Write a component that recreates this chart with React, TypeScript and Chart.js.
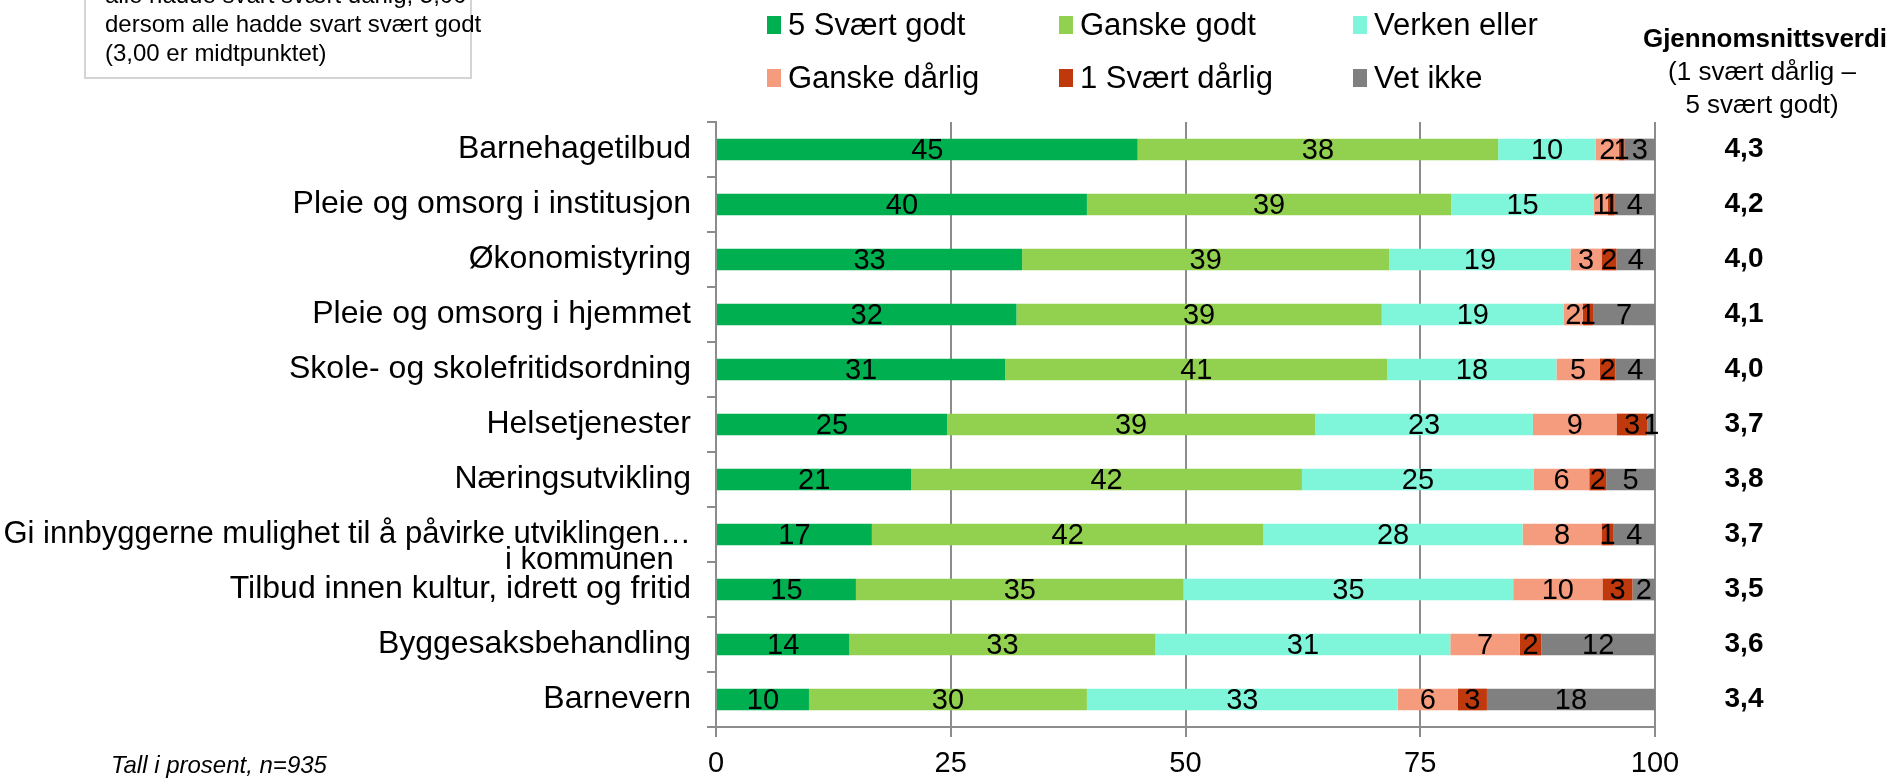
import React, { useEffect, useRef } from 'react';
import { Chart, registerables } from 'chart.js';

Chart.register(...registerables);

const FONT = '"Liberation Sans", Arial, sans-serif';

const categories: (string | string[])[] = [
  'Barnehagetilbud',
  'Pleie og omsorg i institusjon',
  'Økonomistyring',
  'Pleie og omsorg i hjemmet',
  'Skole- og skolefritidsordning',
  'Helsetjenester',
  'Næringsutvikling',
  ['', 'Gi innbyggerne mulighet til å påvirke utviklingen…', 'i kommunen\u00a0\u00a0'],
  'Tilbud innen kultur, idrett og fritid',
  'Byggesaksbehandling',
  'Barnevern',
];

const seriesNames = ['5 Svært godt', 'Ganske godt', 'Verken eller', 'Ganske dårlig', '1 Svært dårlig', 'Vet ikke'];
const seriesColors = ['#00b050', '#92d050', '#7ff5d9', '#f59c7e', '#c0390c', '#808080'];

const svaertGodt = [44.9, 39.5, 32.6, 32.0, 30.8, 24.6, 20.8, 16.6, 14.9, 14.2, 9.9];
const ganskeGodt = [38.4, 38.8, 39.1, 38.9, 40.7, 39.2, 41.6, 41.7, 34.9, 32.6, 29.6];
const verkenEller = [10.4, 15.2, 19.3, 19.4, 18.0, 23.2, 24.7, 27.6, 35.1, 31.4, 33.1];
const ganskeDarlig = [2.45, 1.45, 3.3, 2.0, 4.6, 8.9, 5.9, 8.4, 9.5, 7.4, 6.4];
const svaertDarlig = [0.6, 0.75, 1.6, 1.1, 1.7, 3.3, 1.8, 1.3, 3.2, 2.3, 3.1];
const vetIkke = [3.25, 4.3, 4.1, 6.6, 4.2, 0.8, 5.2, 4.4, 2.4, 12.1, 17.9];

const averages = [4.3, 4.2, 4.0, 4.1, 4.0, 3.7, 3.8, 3.7, 3.5, 3.6, 3.4];

const xTicks = [0, 25, 50, 75, 100];

const headerLines = ['Gjennomsnittsverdi', '(1 svært dårlig –', '5 svært godt)'];
const boxLines = ['alle hadde svart svært dårlig, 5,00', 'dersom alle hadde svart svært godt', '(3,00 er midtpunktet)'];
const footnote = 'Tall i prosent, n=935';

const seriesValues = [svaertGodt, ganskeGodt, verkenEller, ganskeDarlig, svaertDarlig, vetIkke];

const barLabelsPlugin = {
  id: 'barLabels',
  afterDatasetsDraw(chart: any) {
    const ctx = chart.ctx;
    ctx.save();
    ctx.font = `29px ${FONT}`;
    ctx.fillStyle = '#000';
    ctx.textAlign = 'center';
    ctx.textBaseline = 'middle';
    chart.data.datasets.forEach((ds: any, di: number) => {
      const meta = chart.getDatasetMeta(di);
      meta.data.forEach((bar: any, i: number) => {
        const v = ds.data[i];
        const p = bar.getProps(['x', 'base', 'y'], true);
        ctx.fillText(String(Math.round(v)), (p.x + p.base) / 2, p.y + 1);
      });
    });
    ctx.restore();
  },
};

const decorPlugin = {
  id: 'decor',
  afterDraw(chart: any) {
    const ctx = chart.ctx;
    const yScale = chart.scales.y;
    ctx.save();

    // legend
    const colX = [767, 1059, 1353];
    const rowY = [25, 78];
    ctx.font = `31px ${FONT}`;
    ctx.textBaseline = 'middle';
    ctx.textAlign = 'left';
    chart.data.datasets.forEach((ds: any, i: number) => {
      const cx = colX[i % 3];
      const cy = rowY[Math.floor(i / 3)];
      ctx.fillStyle = ds.backgroundColor;
      ctx.fillRect(cx, cy - 9, 14, 18);
      ctx.fillStyle = '#000';
      ctx.fillText(ds.label, cx + 21, cy + 1);
    });

    // header right
    ctx.textAlign = 'center';
    ctx.font = `bold 26px ${FONT}`;
    ctx.fillText(headerLines[0], 1765, 40);
    ctx.font = `26px ${FONT}`;
    ctx.fillText(headerLines[1], 1762, 73);
    ctx.fillText(headerLines[2], 1762, 106);

    // averages
    ctx.font = `bold 28px ${FONT}`;
    averages.forEach((a, i) => {
      const y = yScale.getPixelForValue(i);
      ctx.fillText(a.toFixed(1).replace('.', ','), 1744, y);
    });

    // info box top-left
    ctx.strokeStyle = '#d4d4d4';
    ctx.lineWidth = 2;
    ctx.strokeRect(85, -40, 386, 118);
    ctx.textAlign = 'left';
    ctx.font = `24px ${FONT}`;
    ctx.fillText(boxLines[0], 105, -4);
    ctx.fillText(boxLines[1], 105, 25);
    ctx.fillText(boxLines[2], 105, 54);

    // footnote
    ctx.font = `italic 24px ${FONT}`;
    ctx.fillText(footnote, 111, 766);

    ctx.restore();
  },
};

export default function App() {
  const canvasRef = useRef<HTMLCanvasElement | null>(null);

  useEffect(() => {
    if (!canvasRef.current) return;
    const chart = new Chart(canvasRef.current, {
      type: 'bar',
      data: {
        labels: categories as any,
        datasets: seriesValues.map((vals, i) => ({
          label: seriesNames[i],
          data: vals,
          backgroundColor: seriesColors[i],
          borderWidth: 0,
          barPercentage: 0.395,
          categoryPercentage: 1,
        })),
      },
      options: {
        indexAxis: 'y',
        animation: false,
        responsive: false,
        devicePixelRatio: 1,
        layout: { padding: { left: 0, right: 239, top: 122, bottom: 0 } },
        plugins: {
          legend: { display: false },
          tooltip: { enabled: false },
        },
        scales: {
          x: {
            stacked: true,
            min: 0,
            max: 100,
            afterBuildTicks: (s: any) => {
              s.ticks = xTicks.map((v) => ({ value: v }));
            },
            ticks: { color: '#000', font: { size: 29, family: FONT }, padding: 10 },
            grid: { color: '#8c8c8c', lineWidth: 2, tickLength: 10, drawTicks: true },
            border: { color: '#8c8c8c', width: 2 },
            afterFit: (s: any) => {
              s.height = 55;
            },
          },
          y: {
            stacked: true,
            ticks: {
              color: '#000',
              font: (c: any) => ({
                size: c.index === 7 ? 31 : 32,
                family: FONT,
                lineHeight: 0.85,
              }),
              padding: 16,
              autoSkip: false,
            },
            grid: {
              drawOnChartArea: false,
              drawTicks: true,
              tickLength: 9,
              color: '#8c8c8c',
              lineWidth: 2,
              offset: true,
            },
            border: { color: '#8c8c8c', width: 2 },
            afterFit: (s: any) => {
              s.width = 716;
            },
          },
        },
      } as any,
      plugins: [barLabelsPlugin, decorPlugin],
    });
    return () => chart.destroy();
  }, []);

  return (
    <div style={{ position: 'absolute', left: 0, top: 0, width: 1894, height: 782, background: '#fff' }}>
      <canvas ref={canvasRef} width={1894} height={782} style={{ display: 'block' }} />
    </div>
  );
}
